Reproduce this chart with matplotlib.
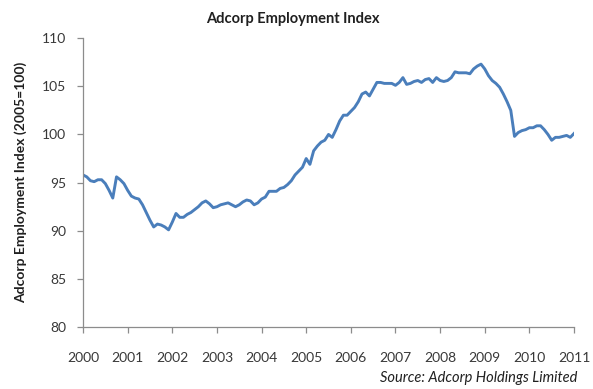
import numpy as np
import matplotlib
matplotlib.use("Agg")
import matplotlib.pyplot as plt

plt.rcParams['font.family'] = ['Lato', 'DejaVu Sans']

# monthly index values, Jan 2000 .. Jan 2011
index_values = [
    95.8, 95.6, 95.2, 95.1, 95.3, 95.3, 94.9, 94.2, 93.4, 95.6, 95.3, 94.9,
    94.2, 93.6, 93.4, 93.3, 92.7, 91.9, 91.1, 90.4, 90.7, 90.6, 90.4, 90.1,
    90.9, 91.8, 91.4, 91.4, 91.7, 91.9, 92.2, 92.5, 92.9, 93.1, 92.8, 92.4,
    92.5, 92.7, 92.8, 92.9, 92.7, 92.5, 92.7, 93.0, 93.2, 93.1, 92.7, 92.9,
    93.3, 93.5, 94.1, 94.1, 94.1, 94.4, 94.5, 94.8, 95.2, 95.8, 96.2, 96.6,
    97.5, 96.9, 98.3, 98.8, 99.2, 99.4, 100.0, 99.7, 100.5, 101.4, 102.0, 102.0,
    102.4, 102.8, 103.4, 104.2, 104.4, 104.0, 104.7, 105.4, 105.4, 105.3, 105.3, 105.3,
    105.1, 105.4, 105.9, 105.2, 105.3, 105.5, 105.6, 105.4, 105.7, 105.8, 105.4, 105.9,
    105.6, 105.5, 105.6, 105.9, 106.5, 106.4, 106.4, 106.4, 106.3, 106.8, 107.1, 107.3,
    106.8, 106.1, 105.6, 105.3, 104.9, 104.2, 103.4, 102.5, 99.8, 100.2, 100.4, 100.5,
    100.7, 100.7, 100.9, 100.9, 100.5, 100.0, 99.4, 99.7, 99.7, 99.8, 99.9, 99.7,
    100.1,
]
start_year = 2000
years = list(range(2000, 2012))
y_ticks = [80, 85, 90, 95, 100, 105, 110]

t = start_year + np.arange(len(index_values)) / 12.0

f = plt.figure(figsize=(5.93, 3.89), dpi=100)
ax = f.add_axes([0.140, 0.159, 0.828, 0.743])
ax.plot(t, index_values, color='#4a7ebb', lw=2.1, solid_joinstyle='round')

ax.set_xlim(2000, 2011)
ax.set_ylim(80, 110)
ax.set_xticks(years)
ax.set_yticks(y_ticks)
ax.set_xticklabels([str(y) for y in years])

for s in ['top', 'right']:
    ax.spines[s].set_visible(False)
for s in ['left', 'bottom']:
    ax.spines[s].set_color('#8c8c8c')
    ax.spines[s].set_linewidth(0.9)
ax.tick_params(colors='#8c8c8c', labelcolor='#383838', labelsize=10, length=4, width=0.9)
ax.tick_params(axis='x', pad=14)
ax.tick_params(axis='y', pad=8)

f.text(0.493, 0.951, "Adcorp Employment Index", ha='center', va='center',
       fontsize=10.5, fontweight='bold', color='#202020')
ax.set_ylabel("Adcorp Employment Index (2005=100)", fontsize=10, fontweight='bold',
              color='#202020', labelpad=11)
f.text(0.973, 0.028, "Source: Adcorp Holdings Limited", ha='right', va='center',
       fontsize=10.5, style='italic', color='#202020')

f.savefig("out.png", dpi=100)
